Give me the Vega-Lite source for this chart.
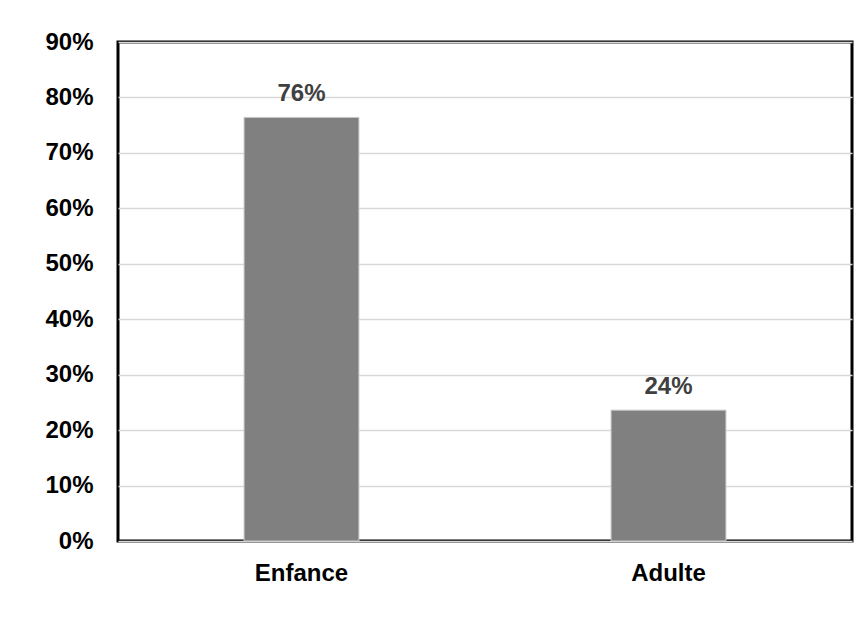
{
  "$schema": "https://vega.github.io/schema/vega-lite/v6.json",
  "width": 734,
  "height": 499,
  "autosize": {"type": "none"},
  "padding": {"left": 118, "top": 42, "right": 16, "bottom": 92},
  "background": "white",
  "config": {
    "font": "Liberation Sans, Arial, sans-serif",
    "view": {"stroke": "#000000", "strokeWidth": 3}
  },
  "data": {"values": [
    {"periode": "Enfance", "part": 0.764},
    {"periode": "Adulte", "part": 0.236}
  ]},
  "encoding": {
    "x": {
      "field": "periode", "type": "nominal", "sort": null,
      "scale": {"paddingInner": 0.687, "paddingOuter": 0.3435},
      "axis": {
        "title": null, "labelAngle": 0, "domain": false, "ticks": false,
        "labelFont": "Liberation Sans, Arial, sans-serif",
        "labelFontSize": 24, "labelFontWeight": "bold", "labelColor": "#000000",
        "labelPadding": 20
      }
    },
    "y": {
      "field": "part", "type": "quantitative",
      "scale": {"domain": [0, 0.9], "nice": false},
      "axis": {
        "title": null, "format": ".0%", "values": [0, 0.1, 0.2, 0.3, 0.4, 0.5, 0.6, 0.7, 0.8, 0.9],
        "domain": false, "ticks": false,
        "grid": true, "gridColor": "#d9d9d9", "gridWidth": 1.5,
        "labelFont": "Liberation Sans, Arial, sans-serif",
        "labelFontSize": 24, "labelFontWeight": "bold", "labelColor": "#000000",
        "labelPadding": 25
      }
    }
  },
  "layer": [
    {"mark": {"type": "bar", "color": "#808080", "stroke": "#c8c8c8", "strokeWidth": 1}},
    {
      "mark": {"type": "text", "dy": -16, "baseline": "alphabetic", "align": "center",
               "fontSize": 24, "fontWeight": "bold", "color": "#404040",
               "font": "Liberation Sans, Arial, sans-serif"},
      "encoding": {"text": {"field": "part", "type": "quantitative", "format": ".0%"}}
    }
  ]
}
